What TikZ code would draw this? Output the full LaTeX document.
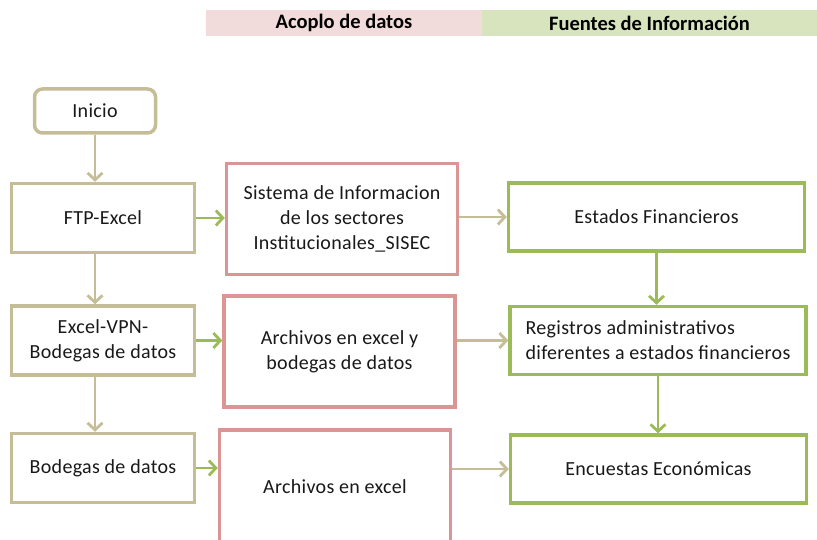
\documentclass[tikz,border=0pt]{standalone}
\usepackage{fontspec}
\setmainfont{Carlito}
\newfontfamily\boxfont[LetterSpace=1.5]{Carlito}
\usetikzlibrary{positioning, arrows.meta, calc}
\definecolor{linetan}{RGB}{196,189,151}
\definecolor{linepink}{RGB}{217,150,148}
\definecolor{linegreen}{RGB}{155,187,89}
\definecolor{headpink}{RGB}{242,220,219}
\definecolor{headgreen}{RGB}{215,228,189}

\begin{document}
\begin{tikzpicture}[x=1pt, y=-1pt, font=\boxfont\fontsize{20}{25}\selectfont,
head/.style={rectangle, fill=#1, minimum height=26pt, inner sep=0pt,
font=\fontsize{20.5}{24}\selectfont\bfseries},
srcbox/.style={rectangle, draw=linetan, line width=3.5pt, fill=white,
minimum width=183pt, minimum height=69pt, align=center, text=black!90},
acqbox/.style={rectangle, draw=linepink, line width=3.5pt, fill=white,
minimum width=231pt, minimum height=111pt, align=center, text=black!90},
infobox/.style={rectangle, draw=linegreen, line width=3.5pt, fill=white,
minimum width=296pt, minimum height=68pt, align=center, text=black!90},
arrow/.style={-{Straight Barb[length=7pt, width=15pt]}, line width=2.8pt, draw=#1}
]
\useasboundingbox (0,0) rectangle (817,540);

% Headers
\node[head=headpink, minimum width=276pt] (hacq) at (344,23) {Acoplo de datos};
\node[head=headgreen, minimum width=335pt] (hinfo) at (649.5,23) {Fuentes de Información};

% Start
\node[srcbox, rounded corners=8pt, minimum width=121pt, minimum height=44pt] (inicio) at (95,111) {Inicio};

% Sources
\node[srcbox] (ftp) at (103,218) {FTP-Excel};
\node[srcbox] (vpn) at (103,340.5) {Excel-VPN-\\Bodegas de datos};
\node[srcbox] (bodegas) at (103,468) {Bodegas de datos};

% Data collection
\node[acqbox] (sisec) at (342,219) {Sistema de Informacion\\de los sectores\\Institucionales\_SISEC};
\node[acqbox] (archbod) at (339.5,351.5) {Archivos en excel y\\bodegas de datos};
\node[acqbox, minimum height=114pt] (archexcel) at (335,487) {Archivos en excel};

% Information
\node[infobox] (estados) at (656.5,217) {Estados Financieros};
\node[infobox, align=left] (registros) at (658,340.5) {Registros administrativos\\diferentes a estados financieros};
\node[infobox] (encuestas) at (658.5,469) {Encuestas Económicas};

% Arrows
\draw[arrow=linetan] (inicio.south) -- (inicio.south |- ftp.north);
\draw[arrow=linetan] (ftp.south -| inicio.south) -- (vpn.north -| inicio.south);
\draw[arrow=linetan] (vpn.south -| inicio.south) -- (bodegas.north -| inicio.south);
\draw[arrow=linegreen] (ftp.east) -- (ftp.east -| sisec.west);
\draw[arrow=linegreen] (vpn.east) -- (vpn.east -| archbod.west);
\draw[arrow=linegreen] (bodegas.east) -- (bodegas.east -| archexcel.west);
\draw[arrow=linetan] (sisec.east |- estados.west) -- (estados.west);
\draw[arrow=linetan] (archbod.east |- registros.west) -- (registros.west);
\draw[arrow=linetan] (archexcel.east |- encuestas.west) -- (encuestas.west);
\draw[arrow=linegreen] (estados.south) -- (estados.south |- registros.north);
\draw[arrow=linegreen] (registros.south) -- (registros.south |- encuestas.north);

\end{tikzpicture}
\end{document}
